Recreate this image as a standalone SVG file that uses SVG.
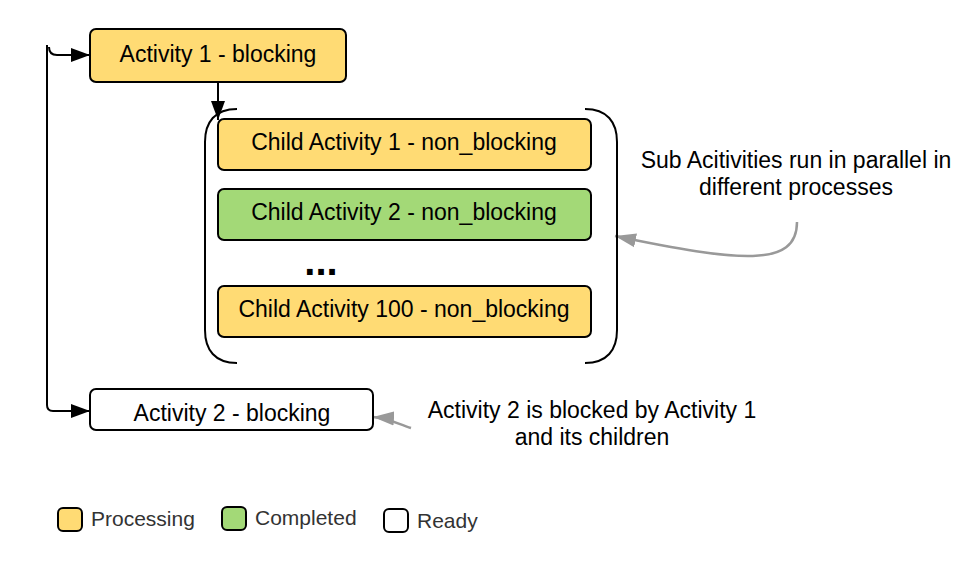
<svg xmlns="http://www.w3.org/2000/svg" width="974" height="579" viewBox="0 0 974 579">
<style>
.box{stroke:#000;stroke-width:2}
.proc{fill:#ffdb74}
.done{fill:#a3d977}
.ready{fill:#fff}
.t{font-family:"Liberation Sans",Arial,sans-serif;font-size:23px;fill:#000;text-anchor:middle}
.lg{font-family:"Liberation Sans",Arial,sans-serif;font-size:21px;fill:#333}
.ln{fill:none;stroke:#000;stroke-width:2}
.gl{fill:none;stroke:#999;stroke-width:2.5}
</style>
<defs>
<marker id="ab" markerWidth="20" markerHeight="16" refX="19" refY="8" orient="auto" markerUnits="userSpaceOnUse">
<path d="M0,1 L19,8 L0,15 Z" fill="#000"/>
</marker>
<marker id="ag" markerWidth="22" markerHeight="16" refX="21" refY="8" orient="auto" markerUnits="userSpaceOnUse">
<path d="M0,1 L21,8 L0,15 Z" fill="#999"/>
</marker>
</defs>
<g id="connectors">
<path class="ln" d="M47,45 V405 Q47,411 53,411 H90" marker-end="url(#ab)"/>
<path class="ln" d="M49,47 Q49,55 57,55 H90" marker-end="url(#ab)"/>
<path class="ln" d="M218,83 V120" marker-end="url(#ab)"/>
<path class="gl" d="M797,222 C797,268 740,262 615,236" marker-end="url(#ag)"/>
<path class="gl" d="M411,428 C398,424 388,418 373,417" marker-end="url(#ag)"/>
</g>
<g id="group-bracket">
<path class="ln" d="M237,109 C215,109 205,122 205,142 V330 C205,350 215,363 237,363"/>
<path class="ln" d="M585,109 C607,109 617,122 617,142 V330 C617,350 607,363 585,363"/>
</g>
<g id="activity1">
<rect class="box proc" x="90" y="29" width="256" height="53" rx="6"/>
<text class="t" x="218" y="62">Activity 1 - blocking</text>
</g>
<g id="child1">
<rect class="box proc" x="218" y="119" width="373" height="51" rx="6"/>
<text class="t" x="404" y="150">Child Activity 1 - non_blocking</text>
</g>
<g id="child2">
<rect class="box done" x="218" y="189" width="373" height="51" rx="6"/>
<text class="t" x="404" y="220">Child Activity 2 - non_blocking</text>
</g>
<g id="ellipsis">
<text x="321" y="275" font-family="Liberation Sans,Arial,sans-serif" font-size="40" font-weight="bold" text-anchor="middle">...</text>
</g>
<g id="child100">
<rect class="box proc" x="218" y="286" width="373" height="51" rx="6"/>
<text class="t" x="404" y="317">Child Activity 100 - non_blocking</text>
</g>
<g id="activity2">
<rect class="box ready" x="90" y="389" width="283" height="41" rx="6"/>
<text class="t" x="232" y="421">Activity 2 - blocking</text>
</g>
<g id="note-parallel">
<text class="t" x="796" y="168">Sub Acitivities run in parallel in</text>
<text class="t" x="796" y="195">different processes</text>
</g>
<g id="note-blocked">
<text class="t" x="592" y="418">Activity 2 is blocked by Activity 1</text>
<text class="t" x="592" y="445">and its children</text>
</g>
<g id="legend">
<rect class="box proc" x="58" y="508" width="24" height="23" rx="5"/>
<text class="lg" x="91" y="526">Processing</text>
<rect class="box done" x="222" y="507" width="24" height="23" rx="5"/>
<text class="lg" x="255" y="525">Completed</text>
<rect class="box ready" x="384" y="509" width="24" height="23" rx="5"/>
<text class="lg" x="417" y="528">Ready</text>
</g>
</svg>
